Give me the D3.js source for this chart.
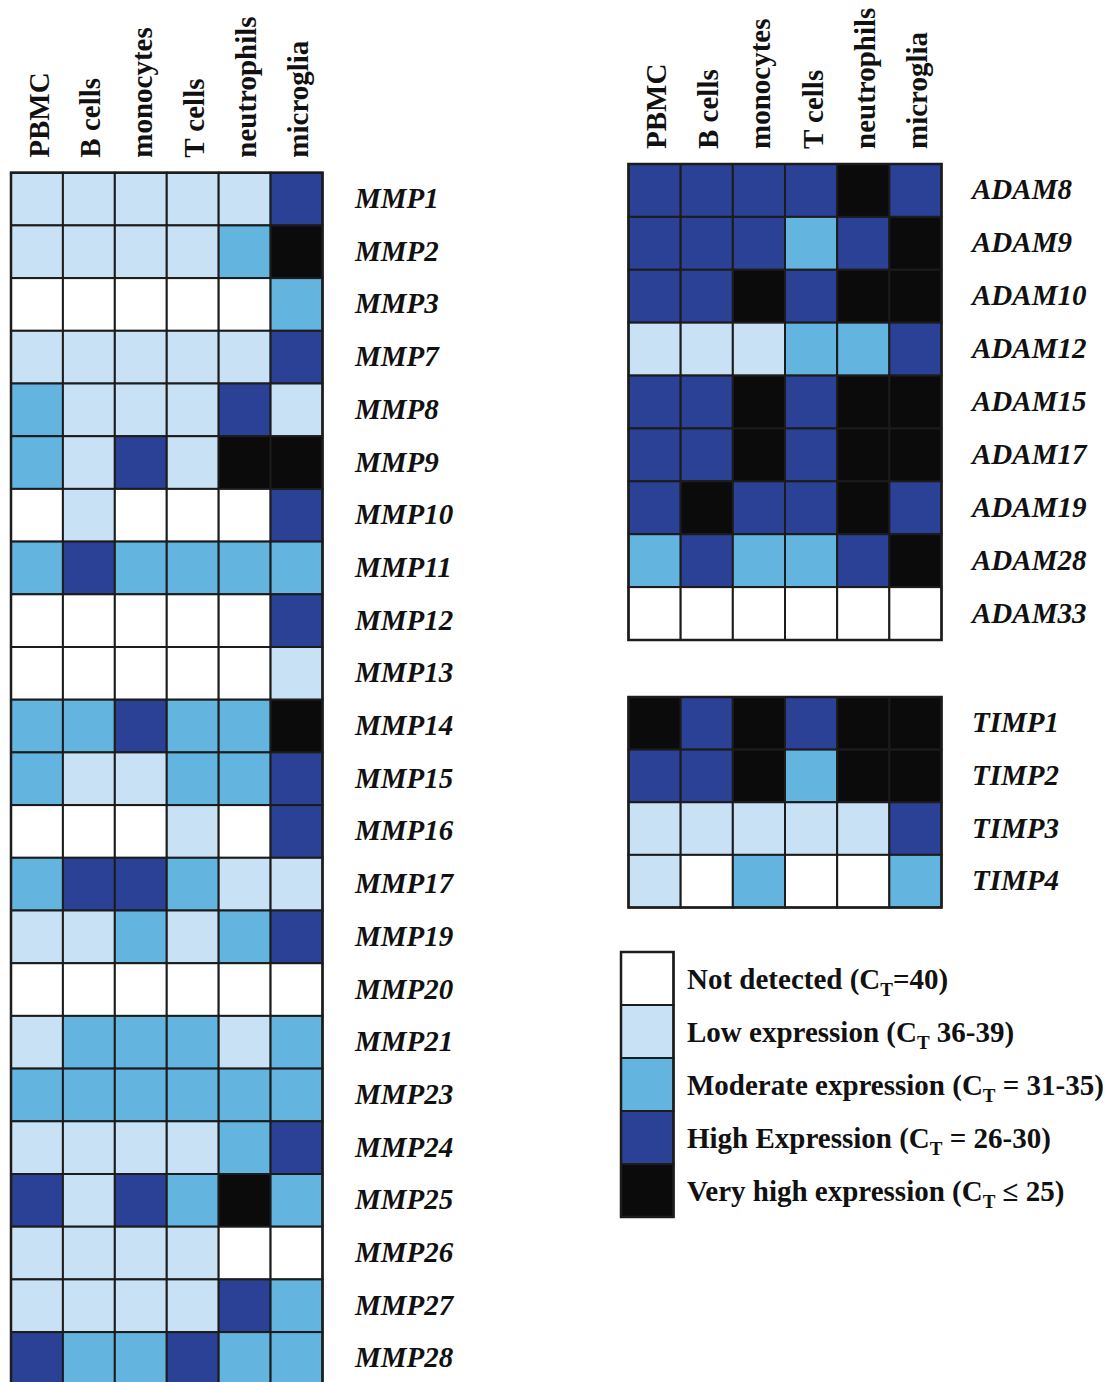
<!DOCTYPE html>
<html>
<head>
<meta charset="utf-8">
<script src="https://cdn.jsdelivr.net/npm/d3@7"></script>
<style>
  html, body { margin: 0; padding: 0; background: #ffffff; }
  svg { display: block; }
  text { font-family: "Liberation Serif", "Times New Roman", serif; font-weight: bold; fill: #111; }
</style>
</head>
<body>
<svg id="chart" width="1112" height="1382"></svg>
<script>
// Cell types (columns, shared by all panels)
const cellTypes = ["PBMC", "B cells", "monocytes", "T cells", "neutrophils", "microglia"];

// Expression levels: 0 = not detected, 1 = low, 2 = moderate, 3 = high, 4 = very high
const mmpGenes = ["MMP1","MMP2","MMP3","MMP7","MMP8","MMP9","MMP10","MMP11","MMP12","MMP13","MMP14",
                  "MMP15","MMP16","MMP17","MMP19","MMP20","MMP21","MMP23","MMP24","MMP25","MMP26","MMP27","MMP28"];
const mmpLevels = [
  [1,1,1,1,1,3],
  [1,1,1,1,2,4],
  [0,0,0,0,0,2],
  [1,1,1,1,1,3],
  [2,1,1,1,3,1],
  [2,1,3,1,4,4],
  [0,1,0,0,0,3],
  [2,3,2,2,2,2],
  [0,0,0,0,0,3],
  [0,0,0,0,0,1],
  [2,2,3,2,2,4],
  [2,1,1,2,2,3],
  [0,0,0,1,0,3],
  [2,3,3,2,1,1],
  [1,1,2,1,2,3],
  [0,0,0,0,0,0],
  [1,2,2,2,1,2],
  [2,2,2,2,2,2],
  [1,1,1,1,2,3],
  [3,1,3,2,4,2],
  [1,1,1,1,0,0],
  [1,1,1,1,3,2],
  [3,2,2,3,2,2]
];

const adamGenes = ["ADAM8","ADAM9","ADAM10","ADAM12","ADAM15","ADAM17","ADAM19","ADAM28","ADAM33"];
const adamLevels = [
  [3,3,3,3,4,3],
  [3,3,3,2,3,4],
  [3,3,4,3,4,4],
  [1,1,1,2,2,3],
  [3,3,4,3,4,4],
  [3,3,4,3,4,4],
  [3,4,3,3,4,3],
  [2,3,2,2,3,4],
  [0,0,0,0,0,0]
];

const timpGenes = ["TIMP1","TIMP2","TIMP3","TIMP4"];
const timpLevels = [
  [4,3,4,3,4,4],
  [3,3,4,2,4,4],
  [1,1,1,1,1,3],
  [1,0,2,0,0,2]
];

// Legend categories
const levelNames = [
  { pre: "Not detected (C", post: "=40)" },
  { pre: "Low expression (C", post: " 36-39)" },
  { pre: "Moderate expression (C", post: " = 31-35)" },
  { pre: "High Expression (C", post: " = 26-30)" },
  { pre: "Very high expression (C", post: " \u2264 25)" }
];
const levelColors = ["#ffffff", "#c8e1f4", "#63b5e0", "#2a4196", "#0b0b0b"];

const svg = d3.select("#chart");
const color = d3.scaleOrdinal().domain(d3.range(5)).range(levelColors);
const FONT = 29;
const GRID = "#1c1c1c";

function heatmap({ genes, levels, x0, x1, y0, y1, labelX, header }) {
  const x = d3.scaleBand().domain(cellTypes).range([x0, x1]);
  const y = d3.scaleBand().domain(genes).range([y0, y1]);
  const g = svg.append("g");

  const cells = [];
  levels.forEach((row, i) => row.forEach((v, j) => cells.push({ gene: genes[i], cell: cellTypes[j], v })));

  g.selectAll("rect.cell").data(cells).join("rect")
    .attr("class", "cell")
    .attr("x", d => x(d.cell))
    .attr("y", d => y(d.gene))
    .attr("width", x.bandwidth())
    .attr("height", y.bandwidth())
    .attr("fill", d => color(d.v))
    .attr("stroke", GRID)
    .attr("stroke-width", 2);

  g.append("rect")
    .attr("x", x0).attr("y", y0)
    .attr("width", x1 - x0).attr("height", y1 - y0)
    .attr("fill", "none").attr("stroke", GRID).attr("stroke-width", 2.5);

  g.selectAll("text.gene").data(genes).join("text")
    .attr("class", "gene")
    .attr("x", labelX)
    .attr("y", d => y(d) + y.bandwidth() / 2)
    .attr("dy", "0.31em")
    .style("font-size", FONT + "px")
    .style("font-style", "italic")
    .text(d => d);

  if (header) {
    g.selectAll("text.head").data(cellTypes).join("text")
      .attr("class", "head")
      .attr("transform", d => `translate(${x(d) + x.bandwidth() / 2 + 2},${y0 - 15}) rotate(-90)`)
      .attr("dy", "0.33em")
      .attr("text-anchor", "start")
      .style("font-size", FONT + "px")
      .text(d => d);
  }
}

heatmap({ genes: mmpGenes, levels: mmpLevels, x0: 11, x1: 322.5, y0: 172.7, y1: 172.7 + 52.7 * 23, labelX: 355, header: true });
heatmap({ genes: adamGenes, levels: adamLevels, x0: 628.5, x1: 941.5, y0: 164, y1: 640, labelX: 972, header: true });
heatmap({ genes: timpGenes, levels: timpLevels, x0: 628.5, x1: 941.5, y0: 697, y1: 907.5, labelX: 972, header: false });

// Legend
const ly = d3.scaleBand().domain(d3.range(5)).range([952, 1217]);
const lg = svg.append("g");
lg.selectAll("rect").data(d3.range(5)).join("rect")
  .attr("x", 621).attr("y", d => ly(d))
  .attr("width", 52.5).attr("height", ly.bandwidth())
  .attr("fill", d => color(d))
  .attr("stroke", GRID).attr("stroke-width", 2);
lg.append("rect")
  .attr("x", 621).attr("y", 952).attr("width", 52.5).attr("height", 265)
  .attr("fill", "none").attr("stroke", GRID).attr("stroke-width", 2.5);

const lt = lg.selectAll("text").data(d3.range(5)).join("text")
  .attr("x", 687)
  .attr("y", d => ly(d) + ly.bandwidth() / 2 + 10)
  .style("font-size", FONT + "px");
lt.append("tspan").text(d => levelNames[d].pre);
lt.append("tspan").attr("dy", 7).style("font-size", "19px").text("T");
lt.append("tspan").attr("dy", -7).text(d => levelNames[d].post);
</script>
</body>
</html>
